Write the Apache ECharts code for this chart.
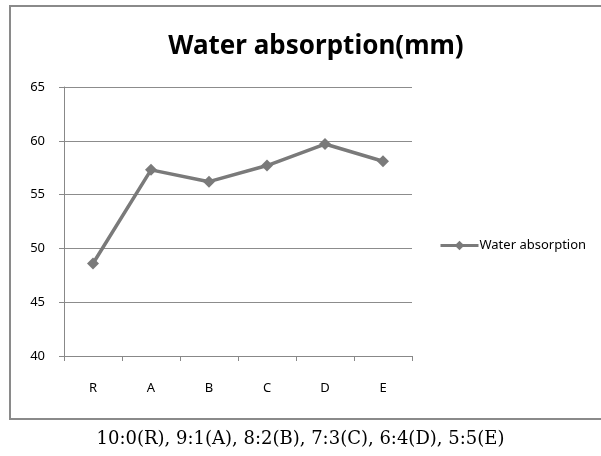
<!DOCTYPE html>
<html>
<head>
<meta charset="utf-8">
<script src="https://cdn.jsdelivr.net/npm/echarts@6/dist/echarts.min.js"></script>
<style>html,body{margin:0;padding:0;background:#fff;overflow:hidden;}#c{width:601px;height:456px;}</style>
</head>
<body>
<div id="c"></div>
<script>
var categories = ['R', 'A', 'B', 'C', 'D', 'E'];
var waterAbsorption = [48.6, 57.3, 56.2, 57.7, 59.7, 58.1];
var seriesName = 'Water absorption';
var titleText = 'Water absorption(mm)';
var captionText = '10:0(R), 9:1(A), 8:2(B), 7:3(C), 6:4(D), 5:5(E)';

var chart = echarts.init(document.getElementById('c'), null, {renderer: 'canvas'});
chart.setOption({
  backgroundColor: '#fff',
  animation: false,
  title: {
    text: titleText,
    left: 311, top: 29, textAlign: 'center',
    textStyle: {fontFamily: 'Noto Sans', fontWeight: 'bold', fontSize: 26, color: '#000'}
  },
  legend: {
    data: [seriesName],
    left: 434, top: 234,
    itemWidth: 38, itemHeight: 12, itemGap: 0,
    lineStyle: {width: 3},
    textStyle: {fontFamily: 'Noto Sans', fontSize: 13, color: '#000', padding: [0,0,0,-4]}
  },
  grid: {left: 64, top: 87, width: 348, height: 269, containLabel: false},
  xAxis: {
    type: 'category', data: categories, boundaryGap: true,
    axisLine: {lineStyle: {color: '#888', width: 1}},
    axisTick: {show: true, length: 5, inside: false, lineStyle: {color: '#888'}},
    axisLabel: {fontFamily: 'Noto Sans', fontSize: 13, color: '#000', margin: 26}
  },
  yAxis: {
    type: 'value', min: 40, max: 65, interval: 5,
    axisLine: {show: true, lineStyle: {color: '#888', width: 1}},
    axisTick: {show: true, length: 5, lineStyle: {color: '#888'}},
    axisLabel: {fontFamily: 'Noto Sans', fontSize: 13, color: '#000', margin: 19},
    splitLine: {show: true, lineStyle: {color: '#8c8c8c', width: 1}}
  },
  series: [{
    name: seriesName, type: 'line', data: waterAbsorption,
    symbol: 'diamond', symbolSize: 12,
    lineStyle: {color: '#7a7a7a', width: 3.5},
    itemStyle: {color: '#7a7a7a'}
  }],
  graphic: [
    {type: 'rect', shape: {x: 10, y: 6, width: 640, height: 413},
     style: {fill: 'none', stroke: '#8a8a8a', lineWidth: 2}, z: 100, silent: true},
    {type: 'text', left: 'center', top: 430,
     style: {text: captionText, font: '18px "DejaVu Serif", "Liberation Serif", serif', fill: '#000'}}
  ]
});
</script>
</body>
</html>
